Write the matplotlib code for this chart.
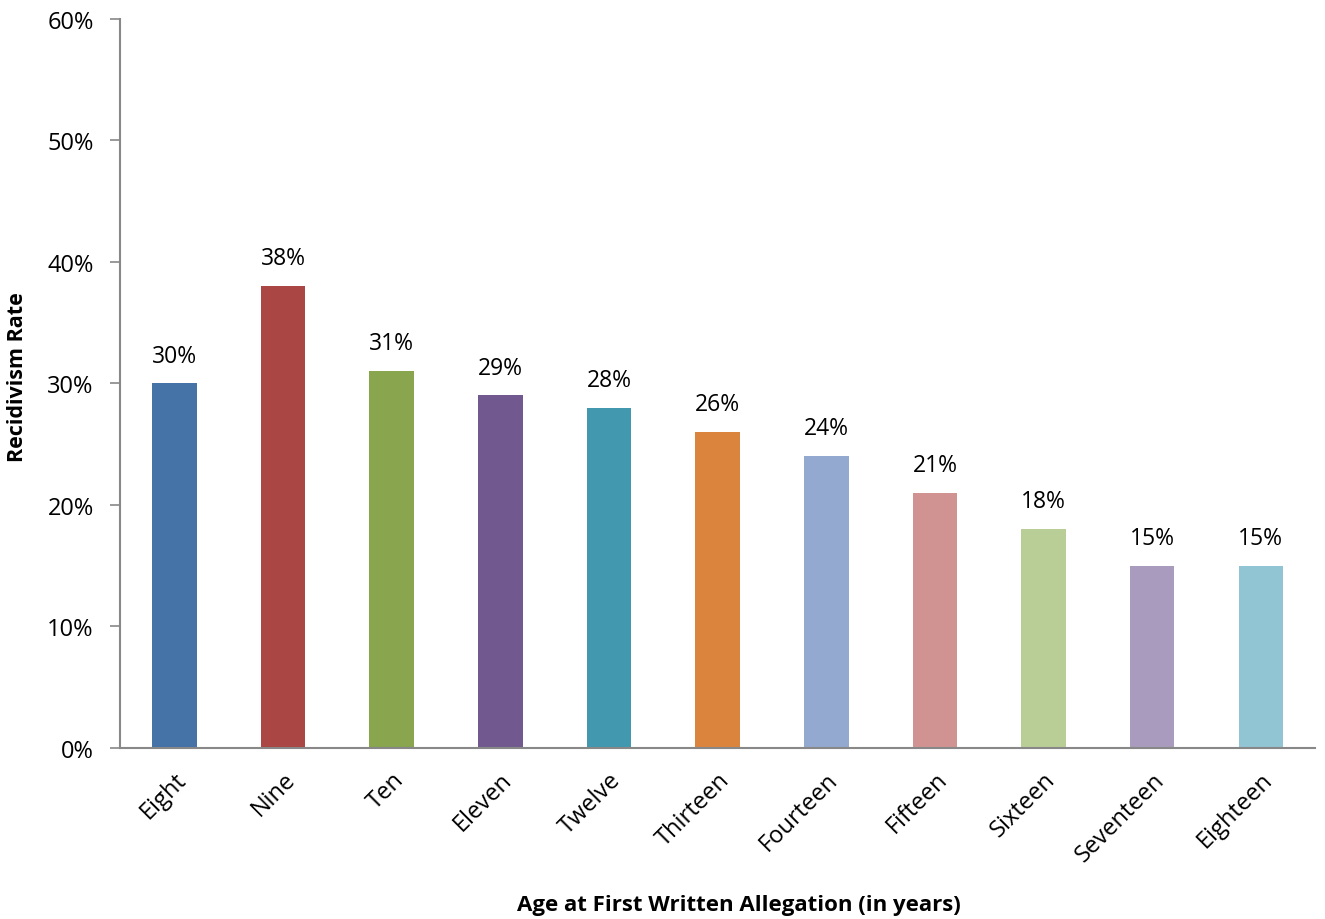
import matplotlib
matplotlib.use("Agg")
import matplotlib.pyplot as plt
from matplotlib.ticker import FuncFormatter

plt.rcParams['font.family'] = ['Open Sans', 'DejaVu Sans']

ages = ["Eight", "Nine", "Ten", "Eleven", "Twelve", "Thirteen",
        "Fourteen", "Fifteen", "Sixteen", "Seventeen", "Eighteen"]
rates = [30, 38, 31, 29, 28, 26, 24, 21, 18, 15, 15]
colors = ["#4572A7", "#AA4643", "#89A54E", "#71588F", "#4198AF", "#DB843D",
          "#93A9CF", "#D19392", "#B9CD96", "#A99BBD", "#92C5D4"]

fig = plt.figure(figsize=(13.25, 9.2), dpi=100)
ax = fig.add_axes([0.0906, 0.186, 0.902, 0.7925])

x = range(len(ages))
bars = ax.bar(x, rates, width=0.41, color=colors)
for b, v in zip(bars, rates):
    ax.text(b.get_x() + b.get_width() / 2, v + 1.3, f"{v}%",
            ha="center", va="bottom", fontsize=16.5)

ax.set_xlim(-0.5, len(ages) - 0.5)
ax.set_ylim(0, 60)
ax.set_yticks(range(0, 61, 10))
ax.yaxis.set_major_formatter(FuncFormatter(lambda v, _: f"{v:.0f}%"))
ax.set_xticks(list(x))
ax.set_xticklabels(ages, rotation=45, ha="right", rotation_mode="anchor", fontsize=17)
ax.tick_params(axis="y", labelsize=17, length=7, width=1.2, color="#888888", pad=12)
ax.tick_params(axis="x", length=0, pad=14)

for s in ["top", "right"]:
    ax.spines[s].set_visible(False)
for s in ["left", "bottom"]:
    ax.spines[s].set_color("#888888")
    ax.spines[s].set_linewidth(1.5)

ax.set_ylabel("Recidivism Rate", fontsize=15.5, fontweight="bold")
ax.set_xlabel("Age at First Written Allegation (in years)", fontsize=16,
              fontweight="bold")
ax.yaxis.set_label_coords(-0.077, 0.51)
ax.xaxis.set_label_coords(0.518, -0.201)

fig.savefig("out.png", dpi=100)
